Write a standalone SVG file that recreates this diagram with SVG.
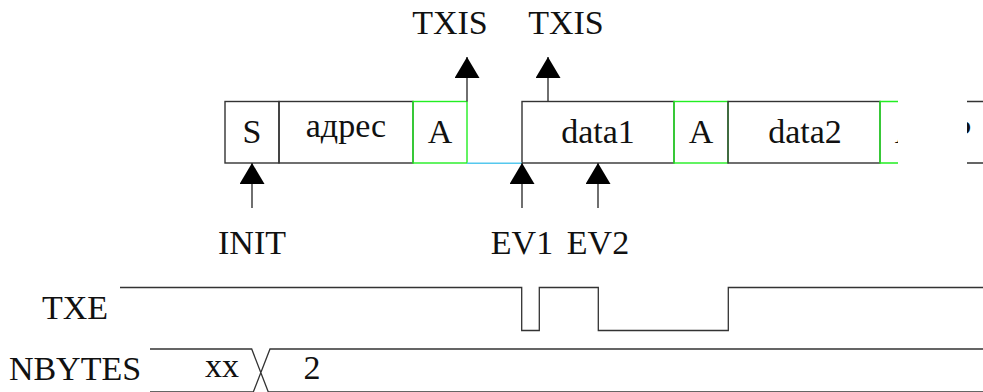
<svg xmlns="http://www.w3.org/2000/svg" width="983" height="392" viewBox="0 0 983 392">
<style>
text{font-size:34px;fill:#111;text-anchor:middle}
.box{fill:none;stroke:#333;stroke-width:1.4}
.ack{fill:none;stroke:#22ee22;stroke-width:1.4}
.ln{fill:none;stroke:#333;stroke-width:1.4}
.sig{fill:none;stroke:#333;stroke-width:1.3}
</style>
<defs>
<marker id="ah" viewBox="0 0 21 25" refX="21" refY="12.5" markerWidth="21" markerHeight="25" markerUnits="userSpaceOnUse" orient="auto">
<path d="M0,0 L21,12.5 L0,25 z" fill="#000"/>
</marker>
<clipPath id="clipA"><rect x="870" y="90" width="28" height="80"/></clipPath>
<clipPath id="clipP"><rect x="967" y="90" width="20" height="80"/></clipPath>
</defs>
<g font-family="Liberation Serif, DejaVu Serif, serif">
<g id="frame-S"><rect class="box" x="225" y="101.5" width="54" height="61.5"/><text x="252" y="143">S</text></g>
<g id="frame-addr"><rect class="box" x="279" y="101.5" width="134" height="61.5"/><text x="346" y="137">адрес</text></g>
<g id="frame-A1"><rect class="ack" x="413" y="101.5" width="54" height="61.5"/><text x="440" y="143">A</text></g>
<g id="frame-data1"><rect class="box" x="522" y="101.5" width="152" height="61.5"/><text x="598" y="143">data1</text></g>
<g id="frame-A2"><rect class="ack" x="674" y="101.5" width="54" height="61.5"/><text x="701" y="143">A</text></g>
<g id="frame-data2"><rect class="box" x="728" y="101.5" width="152" height="61.5"/><text x="805" y="143">data2</text></g>
<g id="frame-A3">
<path class="ack" d="M898,101.5 H880 V163 H898"/>
<text x="907" y="143" clip-path="url(#clipA)">A</text>
</g>
<g id="frame-P">
<path class="box" d="M967,101.5 H983 M967,163 H983"/>
<text x="962" y="143" clip-path="url(#clipP)">P</text>
</g>

<g id="connectors">
<line x1="467" y1="163.3" x2="522" y2="163.3" stroke="#55c8ee" stroke-width="1.6"/>
<line class="ln" x1="467" y1="101.5" x2="467" y2="57" marker-end="url(#ah)"/>
<line class="ln" x1="548" y1="101.5" x2="548" y2="57" marker-end="url(#ah)"/>
<line class="ln" x1="252" y1="208" x2="252" y2="163" marker-end="url(#ah)"/>
<line class="ln" x1="522" y1="208" x2="522" y2="163" marker-end="url(#ah)"/>
<line class="ln" x1="598" y1="208" x2="598" y2="163" marker-end="url(#ah)"/>
</g>

<g id="labels">
<text x="450" y="34">TXIS</text>
<text x="566" y="34">TXIS</text>
<text x="252" y="254">INIT</text>
<text x="522" y="254">EV1</text>
<text x="598" y="254">EV2</text>
</g>

<g id="txe">
<text x="75" y="319">TXE</text>
<path class="sig" d="M120,287.5 H521.7 V330.5 H539.3 V287.5 H598.3 V330.5 H728.3 V287.5 H983"/>
</g>

<g id="nbytes">
<text x="75" y="380">NBYTES</text>
<path class="sig" d="M150,349 H251.7 L268.3,392 H983 M150,392 H253.3 L270,349 H983"/>
<text x="222" y="377">xx</text>
<text x="312" y="379">2</text>
</g>
</g>
</svg>
